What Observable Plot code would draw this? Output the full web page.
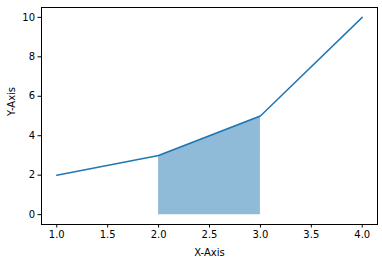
<!DOCTYPE html>
<html><head><meta charset="utf-8">
<script src="https://cdn.jsdelivr.net/npm/d3@7"></script>
<script src="https://cdn.jsdelivr.net/npm/@observablehq/plot@0.6"></script>
<style>body{margin:0;background:#fff}svg{display:block}</style>
</head><body><div id="chart"></div>
<script>
const xs = [1, 2, 3, 4];
const ys = [2, 3, 5, 10];
const fillXs = [2, 3];
const fillYs = [3, 5];
const xTicks = [1.0, 1.5, 2.0, 2.5, 3.0, 3.5, 4.0];
const yTicks = [0, 2, 4, 6, 8, 10];
const xLabel = "X-Axis";
const yLabel = "Y-Axis";

const lineData = xs.map((x, i) => ({x, y: ys[i]}));
const fillData = fillXs.map((x, i) => ({x, y: fillYs[i]}));

const chart = Plot.plot({
  width: 382, height: 262,
  marginLeft: 41, marginRight: 5, marginTop: 7, marginBottom: 38,
  style: {fontFamily: "DejaVu Sans", fontSize: "10px", color: "#000", background: "#fff"},
  x: {domain: [0.85, 4.15]},
  y: {domain: [-0.5, 10.5]},
  marks: [
    Plot.areaY(fillData, {x: "x", y: "y", fill: "#1f77b4", fillOpacity: 0.5}),
    Plot.line(lineData, {x: "x", y: "y", stroke: "#1f77b4", strokeWidth: 1.5}),
    Plot.frame({stroke: "#000", strokeWidth: 1}),
    Plot.axisX({ticks: xTicks, tickFormat: d3.format(".1f"), tickSize: 3.5, tickPadding: 3, label: null, fontSize: 10}),
    Plot.axisY({ticks: yTicks, tickFormat: d3.format("d"), tickSize: 3.5, tickPadding: 3, label: null, fontSize: 10}),
    Plot.text([xLabel], {frameAnchor: "bottom", dy: 31, text: d => d, fontSize: 10}),
    Plot.text([yLabel], {frameAnchor: "left", dx: -30, rotate: -90, text: d => d, fontSize: 10})
  ]
});
document.getElementById("chart").appendChild(chart);
</script></body></html>
